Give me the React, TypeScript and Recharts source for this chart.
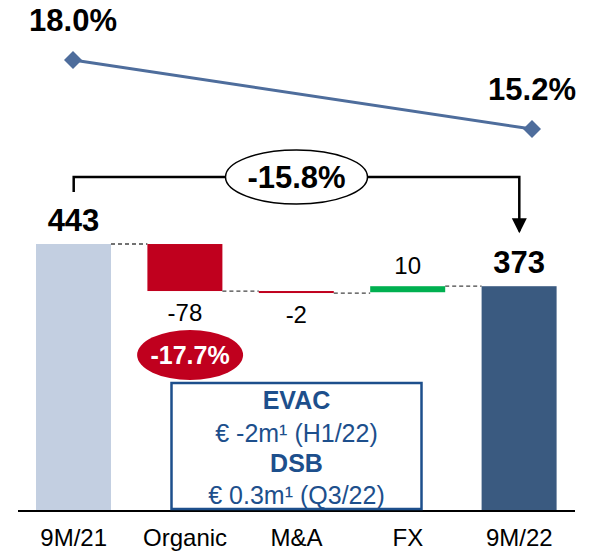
import { Bar, BarChart, Line, LineChart, XAxis, YAxis } from "recharts";

// bridge values (EUR m)
const categories = ["9M/21", "Organic", "M&A", "FX", "9M/22"];
const changes = [443, -78, -2, 10, 373];
const isTotal = [true, false, false, false, true];
const barColors = ["#c3cfe1", "#c0001e", "#c0001e", "#00b050", "#3a5a80"];

// margin line on top
const marginCategories = ["9M/21", "9M/22"];
const marginValues = [18.0, 15.2];

const totalChange = "-15.8%";
const organicChange = "-17.7%";
const noteLines = ["EVAC", "€ -2m¹ (H1/22)", "DSB", "€ 0.3m¹ (Q3/22)"];

const W = 591;
const H = 554;
const ML = 18;
const MR = 16;
const MT = 149.4;
const AXIS_H = 43;
const Y_MAX = 600;
const BAR = 75;
const plotW = W - ML - MR;
const plotH = H - MT - AXIS_H;
const band = plotW / categories.length;
const GAP = band - BAR;
const FONT = "Liberation Sans, Arial, sans-serif";

let running = 0;
const rows = categories.map((name, i) => {
  const d = changes[i];
  if (isTotal[i]) {
    running = d;
    return { name, base: 0, size: d, label: String(d), up: true, total: true };
  }
  const start = running;
  running += d;
  return { name, base: Math.min(start, running), size: Math.abs(d), label: String(d), up: d > 0, total: false };
});

const marginRows = marginCategories.map((name, i) => ({ name, value: marginValues[i] }));

const cx = (i: number) => ML + band * (i + 0.5);
const yPx = (v: number) => MT + plotH * (1 - v / Y_MAX);

function StepBar(props: any) {
  const { x, y, width, height, index } = props;
  const row = rows[index];
  const h = Math.max(height, 2);
  const lineY = row.up ? y : y + h;
  const hasNext = index < rows.length - 1;
  const mid = x + width / 2;
  return (
    <g>
      <rect x={x} y={y} width={width} height={h} fill={barColors[index]} />
      {hasNext && (
        <line
          x1={x + width}
          x2={x + width + GAP}
          y1={lineY}
          y2={lineY}
          stroke="#444"
          strokeWidth={1.3}
          strokeDasharray="4 3"
        />
      )}
      {row.up ? (
        <text
          x={mid}
          y={row.total ? y - 13 : y - 12}
          textAnchor="middle"
          fontFamily={FONT}
          fontSize={row.total ? 31 : 24}
          fontWeight={row.total ? "bold" : "normal"}
          fill="#000"
        >
          {row.label}
        </text>
      ) : (
        <text x={mid} y={y + h + 30} textAnchor="middle" fontFamily={FONT} fontSize={24} fill="#000">
          {row.label}
        </text>
      )}
    </g>
  );
}

function CategoryTick(props: any) {
  const { x, y, payload } = props;
  return (
    <text x={x} y={y + 35} textAnchor="middle" fontFamily={FONT} fontSize={24} fill="#000">
      {payload.value}
    </text>
  );
}

function DiamondDot(props: any) {
  const { cx: px, cy: py, payload } = props;
  if (px == null || py == null) return null;
  const r = 9;
  return (
    <g key={`d-${payload.name}`}>
      <polygon
        points={`${px},${py - r} ${px + r},${py} ${px},${py + r} ${px - r},${py}`}
        fill="#4e6d9c"
      />
      <text x={px} y={py - 29} textAnchor="middle" fontFamily={FONT} fontSize={31} fontWeight="bold" fill="#000">
        {payload.value.toFixed(1)}%
      </text>
    </g>
  );
}

function Annotations() {
  const x0 = cx(0);
  const x2 = cx(2);
  const x4 = cx(4);
  const yb = 177;
  const ex = 71;
  return (
    <svg width={W} height={H} style={{ position: "absolute", left: 0, top: 0, pointerEvents: "none" }}>
      <g stroke="#000" strokeWidth={2.5} fill="none">
        <polyline points={`${x0},${yb + 15} ${x0},${yb} ${x2 - ex},${yb}`} />
        <polyline points={`${x2 + ex},${yb} ${x4},${yb} ${x4},${yPx(373) - 55}`} />
      </g>
      <polygon points={`${x4 - 7.5},${yPx(373) - 68} ${x4 + 7.5},${yPx(373) - 68} ${x4},${yPx(373) - 53}`} fill="#000" />
      <ellipse cx={x2} cy={yb} rx={ex} ry={27} fill="#fff" stroke="#000" strokeWidth={1.5} />
      <text x={x2} y={yb + 11} textAnchor="middle" fontFamily={FONT} fontSize={31} fontWeight="bold" fill="#000">
        {totalChange}
      </text>

      <ellipse cx={cx(1) + 5} cy={355} rx={53} ry={25} fill="#c0001e" />
      <text x={cx(1) + 5} y={364} textAnchor="middle" fontFamily={FONT} fontSize={25} fontWeight="bold" fill="#fff">
        {organicChange}
      </text>

      <rect x={x2 - 125} y={383} width={250} height={126} fill="#fff" stroke="#1d4f8c" strokeWidth={2.5} />
      {noteLines.map((t, i) => (
        <text
          key={t}
          x={x2}
          y={409 + [0, 33, 63, 95][i]}
          textAnchor="middle"
          fontFamily={FONT}
          fontSize={25}
          fontWeight={i % 2 === 0 ? "bold" : "normal"}
          fill="#1d4f8c"
        >
          {t}
        </text>
      ))}
    </svg>
  );
}

export default function App() {
  return (
    <div style={{ position: "absolute", left: 0, top: 0, width: W, height: H, background: "#fff" }}>
      <BarChart width={W} height={H} data={rows} margin={{ top: MT, right: MR, left: ML, bottom: 0 }} barSize={BAR}>
        <XAxis
          dataKey="name"
          height={AXIS_H}
          axisLine={{ stroke: "#000", strokeWidth: 2 }}
          tickLine={false}
          tickSize={0}
          tickMargin={0}
          tick={<CategoryTick />}
          interval={0}
        />
        <YAxis hide domain={[0, Y_MAX]} />
        <Bar dataKey="base" stackId="w" fill="transparent" isAnimationActive={false} />
        <Bar dataKey="size" stackId="w" shape={<StepBar />} isAnimationActive={false} />
      </BarChart>
      <div style={{ position: "absolute", left: 0, top: 0 }}>
        <LineChart width={W} height={220} data={marginRows} margin={{ top: 10.7, right: 59, left: 73, bottom: 12.1 }}>
          <XAxis dataKey="name" hide scale="point" />
          <YAxis hide domain={[12, 20]} />
          <Line
            dataKey="value"
            stroke="#4e6d9c"
            strokeWidth={3}
            dot={<DiamondDot />}
            activeDot={false}
            isAnimationActive={false}
          />
        </LineChart>
      </div>
      <Annotations />
    </div>
  );
}
